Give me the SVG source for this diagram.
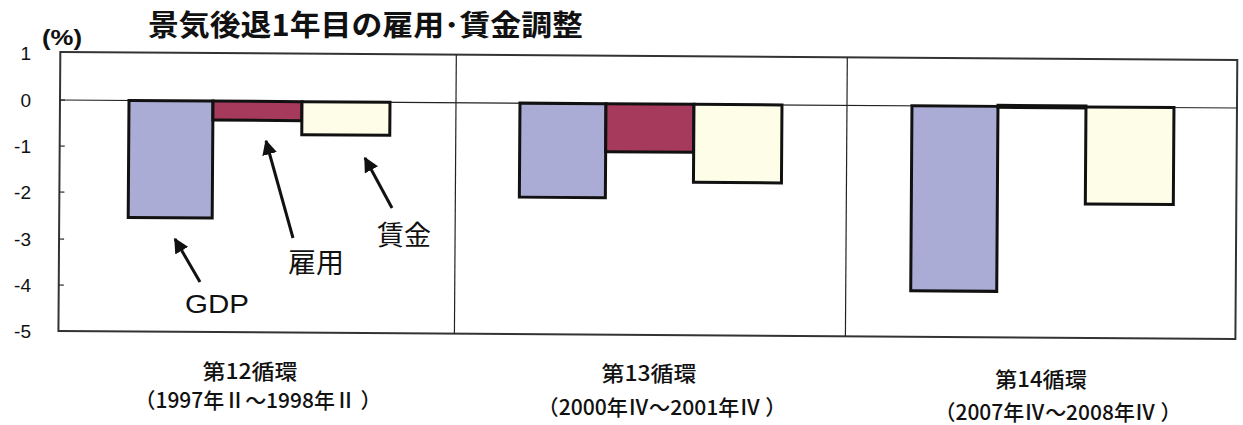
<svg xmlns="http://www.w3.org/2000/svg" width="1243" height="425" viewBox="0 0 1243 425">
<style>
.num{font-family:"Liberation Sans",Arial,sans-serif;font-size:19px;fill:#111;text-anchor:end}
.jp{font-family:"Noto Sans CJK JP","Noto Sans",sans-serif;fill:#111}
.cat{font-family:"Noto Sans CJK JP","Noto Sans",sans-serif;font-size:21px;font-weight:500;fill:#111;text-anchor:middle}
.bar{stroke:#111;stroke-width:3}
.gdp{fill:#aaacd6}
.emp{fill:#a53a5c}
.wage{fill:#fdfde8}
.frame{fill:none;stroke:#333;stroke-width:2}
.thin{stroke:#222;stroke-width:1.2}
.arrow{stroke:#111;stroke-width:3;fill:none;marker-end:url(#ah)}
</style>
<defs>
<marker id="ah" viewBox="0 0 10 10" refX="9" refY="5" markerWidth="5" markerHeight="5" markerUnits="strokeWidth" orient="auto">
<path d="M0,0 L10,5 L0,10 z" fill="#111"/>
</marker>
</defs>
<rect width="1243" height="425" fill="#fff"/>
<text id="title" class="jp" x="148" y="36" style="font-size:29px;font-weight:bold" textLength="435" lengthAdjust="spacingAndGlyphs">景気後退1年目の雇用･賃金調整</text>
<text x="42" y="45" style="font-family:'Liberation Sans',Arial,sans-serif;font-size:22px;font-weight:bold;fill:#111" textLength="40" lengthAdjust="spacingAndGlyphs">(%)</text>
<g id="yaxis">
<text class="num" x="31" y="60">1</text>
<text class="num" x="31" y="107">0</text>
<text class="num" x="31" y="153">-1</text>
<text class="num" x="31" y="199">-2</text>
<text class="num" x="31" y="246">-3</text>
<text class="num" x="31" y="292">-4</text>
<text class="num" x="31" y="338">-5</text>
</g>
<g id="chart" transform="rotate(0.39 60 100)">
<rect class="frame" x="60" y="52" width="1177" height="279"/>
<line class="thin" x1="456" y1="52" x2="456" y2="331"/>
<line class="thin" x1="847" y1="52" x2="847" y2="331"/>
<g class="thin">
<line x1="60" y1="100" x2="65" y2="100"/>
<line x1="60" y1="146" x2="65" y2="146"/>
<line x1="60" y1="192" x2="65" y2="192"/>
<line x1="60" y1="239" x2="65" y2="239"/>
<line x1="60" y1="285" x2="65" y2="285"/>
</g>
<line class="thin" x1="60" y1="100" x2="1237" y2="100"/>
<g id="cycle12">
<rect class="bar gdp" x="129" y="100" width="84" height="117"/>
<rect class="bar emp" x="213" y="100" width="89" height="19"/>
<rect class="bar wage" x="302" y="100" width="88" height="33"/>
</g>
<g id="cycle13">
<rect class="bar gdp" x="520" y="100" width="86" height="94"/>
<rect class="bar emp" x="606" y="100" width="88" height="48"/>
<rect class="bar wage" x="694" y="100" width="88" height="78"/>
</g>
<g id="cycle14">
<rect class="bar gdp" x="912" y="100" width="86" height="185"/>
<rect class="bar emp" x="998" y="99" width="88" height="2"/>
<rect class="bar wage" x="1086" y="100" width="88" height="97"/>
</g>
</g>
<g id="connectors">
<line class="arrow" x1="200" y1="282" x2="175" y2="239"/>
<line class="arrow" x1="293" y1="238" x2="266" y2="141"/>
<line class="arrow" x1="392" y1="208" x2="365" y2="158"/>
</g>
<g id="labels">
<text class="num" x="185" y="313" style="font-size:25px;text-anchor:start" textLength="64" lengthAdjust="spacingAndGlyphs">GDP</text>
<text class="jp" x="288" y="273" style="font-size:28px" textLength="56" lengthAdjust="spacingAndGlyphs">雇用</text>
<text class="jp" x="377" y="245" style="font-size:27px" textLength="54" lengthAdjust="spacingAndGlyphs">賃金</text>
</g>
<g id="categories">
<text class="cat" x="250" y="379" textLength="95" lengthAdjust="spacingAndGlyphs">第12循環</text>
<text class="cat" x="258" y="408" textLength="247" lengthAdjust="spacingAndGlyphs">（1997年Ⅱ～1998年Ⅱ ）</text>
<text class="cat" x="649" y="381" textLength="95" lengthAdjust="spacingAndGlyphs">第13循環</text>
<text class="cat" x="662" y="415" textLength="249" lengthAdjust="spacingAndGlyphs">（2000年Ⅳ～2001年Ⅳ ）</text>
<text class="cat" x="1041" y="387" textLength="92" lengthAdjust="spacingAndGlyphs">第14循環</text>
<text class="cat" x="1058" y="420" textLength="247" lengthAdjust="spacingAndGlyphs">（2007年Ⅳ～2008年Ⅳ ）</text>
</g>
</svg>
